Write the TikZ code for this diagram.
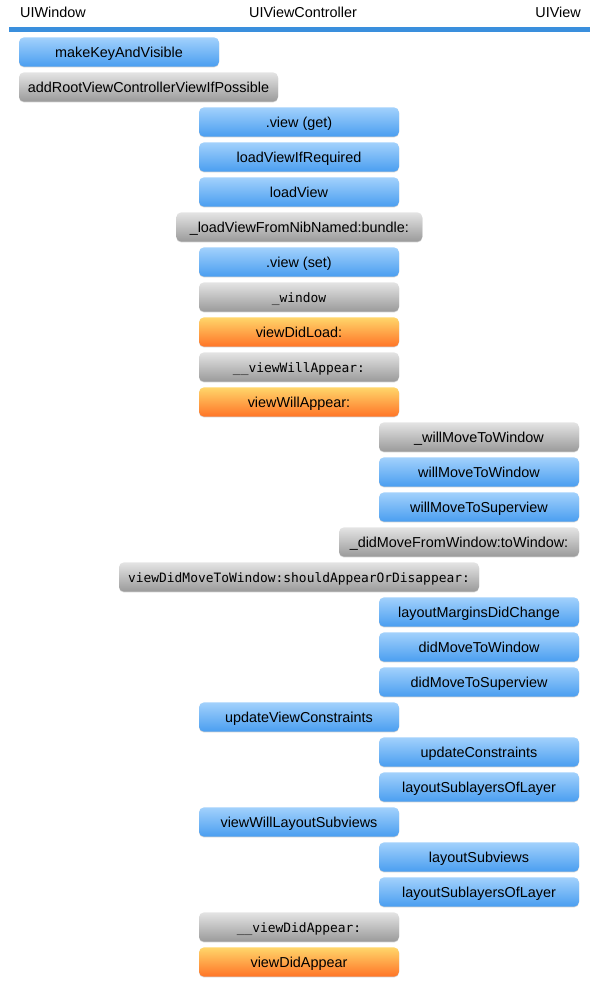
\documentclass[tikz,border=0pt]{standalone}
\usepackage{fontspec}
\setmainfont{Liberation Sans}
\newfontfamily\monofont{DejaVu Sans Mono}
\usetikzlibrary{shadows}
\definecolor{btop}{HTML}{A2D1FC}
\definecolor{bbot}{HTML}{4A9EF0}
\definecolor{gtop}{HTML}{E4E4E4}
\definecolor{gbot}{HTML}{9A9A9A}
\definecolor{otop}{HTML}{FFD66A}
\definecolor{obot}{HTML}{FF7427}
\definecolor{headline}{HTML}{3A8FDD}
\tikzset{
  callbox/.style={rounded corners=5pt, minimum height=29.3pt, minimum width=200pt,
    inner sep=0pt, text height=10.2pt, text depth=0pt, align=center,
    font=\fontsize{14.4}{16}\selectfont,
    general shadow={fill=black, opacity=0.18, shadow yshift=-0.8pt}},
  bluebox/.style={callbox, top color=btop, bottom color=bbot},
  graybox/.style={callbox, top color=gtop, bottom color=gbot},
  orangebox/.style={callbox, top color=otop, bottom color=obot},
  mono/.style={font=\monofont\fontsize{12.9}{15}\selectfont},
  headtext/.style={font=\fontsize{14.4}{16}\selectfont, inner sep=0pt}
}
\begin{document}
\begin{tikzpicture}[x=1pt,y=-1pt]
\useasboundingbox (0,0) rectangle (603,994);
\fill[white] (0,0) rectangle (603,994);
\node[headtext, anchor=base west] (hw) at (20,17) {UIWindow};
\node[headtext, anchor=base] (hvc) at (303,17) {UIViewController};
\node[headtext, anchor=base east] (hv) at (581,17) {UIView};
\coordinate (la) at (9,29.5);
\coordinate (lb) at (590,29.5);
\draw[headline, line width=4.5pt] (la) -- (lb);

\node[bluebox] (r1) at (119,52) {makeKeyAndVisible};
\node[graybox, minimum width=259pt] (r2) at (148.5,87) {addRootViewControllerViewIfPossible};
\node[bluebox] (r3) at (299,122) {.view (get)};
\node[bluebox] (r4) at (299,157) {loadViewIfRequired};
\node[bluebox] (r5) at (299,192) {loadView};
\node[graybox, minimum width=246pt] (r6) at (299.3,227) {\_loadViewFromNibNamed:bundle:};
\node[bluebox] (r7) at (299,262) {.view (set)};
\node[graybox, mono] (r8) at (299,297) {\_window};
\node[orangebox] (r9) at (299,332) {viewDidLoad:};
\node[graybox, mono] (r10) at (299,367) {\_\_viewWillAppear:};
\node[orangebox] (r11) at (299,402) {viewWillAppear:};
\node[graybox] (r12) at (479,437) {\_willMoveToWindow};
\node[bluebox] (r13) at (479,472) {willMoveToWindow};
\node[bluebox] (r14) at (479,507) {willMoveToSuperview};
\node[graybox, minimum width=240pt] (r15) at (459,542) {\_didMoveFromWindow:toWindow:};
\node[graybox, mono, minimum width=360pt] (r16) at (299,577) {viewDidMoveToWindow:shouldAppearOrDisappear:};
\node[bluebox] (r17) at (479,612) {layoutMarginsDidChange};
\node[bluebox] (r18) at (479,647) {didMoveToWindow};
\node[bluebox] (r19) at (479,682) {didMoveToSuperview};
\node[bluebox] (r20) at (299,717) {updateViewConstraints};
\node[bluebox] (r21) at (479,752) {updateConstraints};
\node[bluebox] (r22) at (479,787) {layoutSublayersOfLayer};
\node[bluebox] (r23) at (299,822) {viewWillLayoutSubviews};
\node[bluebox] (r24) at (479,857) {layoutSubviews};
\node[bluebox] (r25) at (479,892) {layoutSublayersOfLayer};
\node[graybox, mono] (r26) at (299,927) {\_\_viewDidAppear:};
\node[orangebox] (r27) at (299,962) {viewDidAppear};
\end{tikzpicture}
\end{document}
